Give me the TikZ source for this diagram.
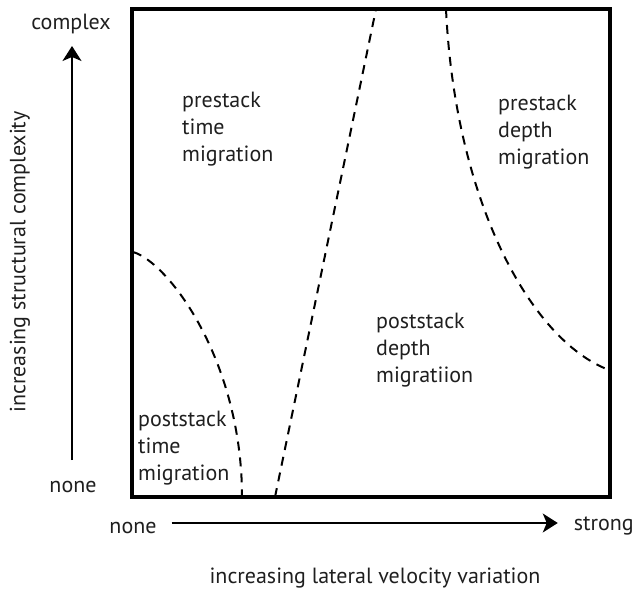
\documentclass[tikz,border=0pt]{standalone}
\usepackage{fontspec}
\setmainfont{PT Sans}
\usetikzlibrary{arrows.meta}
\begin{document}
\begin{tikzpicture}[x=1pt,y=-1pt,
  txt/.style={inner sep=0pt,font=\fontsize{22}{27}\selectfont,text=black!88},
  region/.style={txt,anchor=north west,align=left},
  axis/.style={line width=1.5pt,-{Stealth[length=15pt,width=19pt,inset=4pt]}},
  bound/.style={line width=2pt,dash pattern=on 9pt off 7pt}]
\useasboundingbox (0,0) rectangle (636,596);
% frame
\draw[line width=3.4pt] (132,9) rectangle (610,497);
% region boundaries
\draw[bound] (133,252) .. controls (168,262) and (242,360) .. (242,497);
\draw[bound] (275,497) -- (376,9);
\draw[bound] (446,9) .. controls (455,200) and (530,340) .. (609,370);
% region labels
\node[region] (ptm) at (182,92) {prestack\\time\\migration};
\node[region] (pdm) at (498,95) {prestack\\depth\\migration};
\node[region] (sdm) at (376,313) {poststack\\depth\\migratiion};
\node[region] (stm) at (138,411) {poststack\\time\\migration};
% vertical axis
\node[txt,anchor=base] (complex) at (71,30) {complex};
\node[txt,anchor=base] (nonev) at (73,492) {none};
\coordinate (vbot) at (72,460);
\coordinate (vtop) at (72,46);
\draw[axis] (vbot) -- (vtop);
\node[txt,rotate=90] (vlab) at (20,262) {increasing structural complexity};
% horizontal axis
\node[txt,anchor=base] (noneh) at (133,533) {none};
\node[txt,anchor=base east] (strong) at (634,530) {strong};
\draw[axis] ([xshift=15pt]noneh.east |- 0,523) -- ([xshift=-16pt]strong.west |- 0,523);
\node[txt] (hlab) at (375,578) {increasing lateral velocity variation};
\end{tikzpicture}
\end{document}
